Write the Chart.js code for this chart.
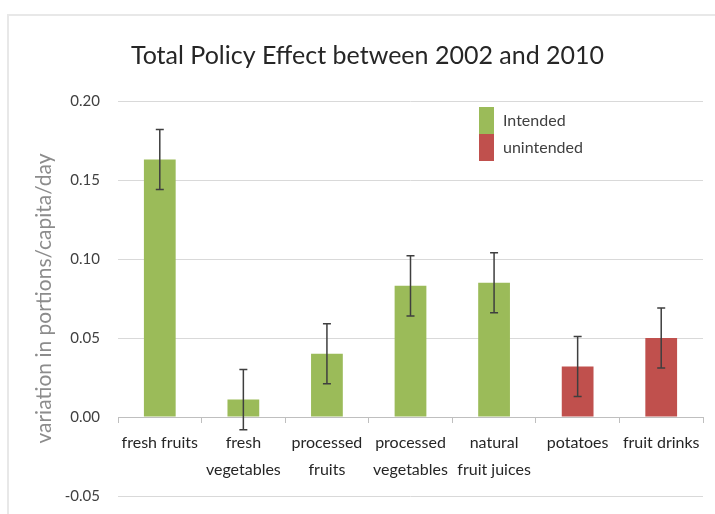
<!DOCTYPE html>
<html>
<head>
<meta charset="utf-8">
<script src="https://cdn.jsdelivr.net/npm/chart.js@4"></script>
<style>
  html, body { margin: 0; padding: 0; background: #ffffff; }
  #wrap { position: relative; width: 715px; height: 514px; }
</style>
</head>
<body>
<div id="wrap"><canvas id="chartPolicy"></canvas></div>
<script>
// categories and values (portions/capita/day)
const categories = [
    ['fresh fruits'],
    ['fresh', 'vegetables'],
    ['processed', 'fruits'],
    ['processed', 'vegetables'],
    ['natural', 'fruit juices'],
    ['potatoes'],
    ['fruit drinks']
];
const effect  = [0.163, 0.011, 0.040, 0.083, 0.085, 0.032, 0.050];
const errLow  = [0.144, -0.008, 0.021, 0.064, 0.066, 0.013, 0.031];
const errHigh = [0.182, 0.030, 0.059, 0.102, 0.104, 0.051, 0.069];
const effectType = ['Intended', 'Intended', 'Intended', 'Intended', 'Intended', 'unintended', 'unintended'];
const legendLabels = ['Intended', 'unintended'];
const yTickMin = -0.05;
const yTickMax = 0.20;
const yTickStep = 0.05;

const typeColors = { 'Intended': '#9bbb59', 'unintended': '#c0504d' };
const FONT = 'Lato, "Open Sans", sans-serif';

// thin frame around the figure
const framePlugin = {
    id: 'frame',
    beforeDraw(chart) {
        const c = chart.ctx;
        c.save();
        c.strokeStyle = '#e8e8e8';
        c.lineWidth = 2;
        c.strokeRect(8, 15, 760, 560);
        c.restore();
    }
};

// error bars from errLow / errHigh
const errorBarPlugin = {
    id: 'errorBars',
    afterDatasetsDraw(chart) {
        const c = chart.ctx;
        const y = chart.scales.y;
        const meta = chart.getDatasetMeta(0);
        c.save();
        c.strokeStyle = '#3f3f3f';
        c.lineWidth = 1.5;
        meta.data.forEach(function(bar, i) {
            const yTop = y.getPixelForValue(errHigh[i]);
            const yBot = y.getPixelForValue(errLow[i]);
            c.beginPath();
            c.moveTo(bar.x, yTop); c.lineTo(bar.x, yBot);
            c.moveTo(bar.x - 4, yTop); c.lineTo(bar.x + 4, yTop);
            c.moveTo(bar.x - 4, yBot); c.lineTo(bar.x + 4, yBot);
            c.stroke();
        });
        c.restore();
    }
};

// stacked colour legend inside the plot
const legendPlugin = {
    id: 'typeLegend',
    afterDraw(chart) {
        const c = chart.ctx;
        const area = chart.chartArea;
        const x = area.left + 361;
        let top = area.top + 6;
        c.save();
        c.font = '16px ' + FONT;
        c.textBaseline = 'middle';
        c.textAlign = 'left';
        legendLabels.forEach(function(lbl) {
            c.fillStyle = typeColors[lbl];
            c.fillRect(x, top, 15, 27);
            c.fillStyle = '#404040';
            c.fillText(lbl, x + 24, top + 14);
            top += 27;
        });
        c.restore();
    }
};

const ctx = document.getElementById('chartPolicy');
new Chart(ctx, {
    type: 'bar',
    data: {
        labels: categories,
        datasets: [{
            label: 'Total policy effect',
            data: effect,
            backgroundColor: effectType.map(t => typeColors[t]),
            borderWidth: 0,
            barPercentage: 0.76,
            categoryPercentage: 0.5
        }]
    },
    options: {
        responsive: true,
        maintainAspectRatio: false,
        animation: false,
        layout: { padding: { left: 32, right: 12, top: 0, bottom: 18 } },
        plugins: {
            legend: { display: false },
            tooltip: { enabled: false },
            title: {
                display: true,
                text: 'Total Policy Effect between 2002 and 2010',
                color: '#262626',
                font: { family: FONT, size: 25, weight: 'normal' },
                padding: { top: 41, bottom: 30 }
            }
        },
        scales: {
            x: {
                position: { y: 0 },
                grid: {
                    drawOnChartArea: false,
                    drawTicks: true,
                    tickLength: 5,
                    color: '#bfbfbf'
                },
                border: { color: '#bfbfbf', width: 1 },
                ticks: {
                    color: '#262626',
                    font: { family: FONT, size: 16, lineHeight: 1.7 },
                    maxRotation: 0,
                    autoSkip: false,
                    padding: 7
                }
            },
            y: {
                min: yTickMin,
                max: yTickMax,
                afterFit(scale) {
                    scale.width = 86;
                    // keep only half a label of room above/below the plot
                    scale.paddingTop = 9;
                    scale.paddingBottom = 9;
                },
                grid: { color: '#d9d9d9', drawTicks: false },
                border: { display: false },
                ticks: {
                    stepSize: yTickStep,
                    color: '#404040',
                    padding: 18,
                    font: { family: FONT, size: 15 },
                    callback: v => v.toFixed(2)
                },
                title: {
                    display: true,
                    text: 'variation in portions/capita/day',
                    color: '#8c8c8c',
                    font: { family: FONT, size: 21 },
                    padding: { top: 0, bottom: 0 }
                }
            }
        }
    },
    plugins: [framePlugin, errorBarPlugin, legendPlugin]
});
</script>
</body>
</html>
